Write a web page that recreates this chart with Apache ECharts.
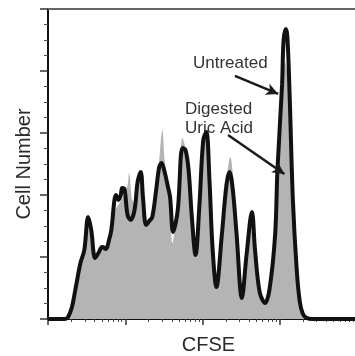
<!DOCTYPE html>
<html>
<head>
<meta charset="utf-8">
<script src="https://cdn.jsdelivr.net/npm/echarts@6/dist/echarts.min.js"></script>
<style>
  html, body { margin: 0; padding: 0; background: #fff; }
  #chart { width: 355px; height: 356px; }
</style>
</head>
<body>
<div id="chart"></div>
<script>
// CFSE fluorescence in decades (log10), counts in arbitrary cell-number units
const untreatedX = [0, 0.22, 0.26, 0.31, 0.36, 0.42, 0.47, 0.52, 0.56, 0.61, 0.66, 0.70, 0.75, 0.79, 0.82, 0.86, 0.88, 0.91, 0.94, 0.96, 0.99,
  1.03, 1.07, 1.12, 1.16, 1.20, 1.23, 1.27, 1.31, 1.35, 1.40, 1.44, 1.47, 1.51, 1.55, 1.58, 1.62, 1.68, 1.74, 1.78, 1.82, 1.86, 1.91, 1.96,
  2.01, 2.05, 2.09, 2.13, 2.18, 2.25, 2.31, 2.35, 2.39, 2.44, 2.51, 2.57, 2.64, 2.68, 2.74, 2.81, 2.87, 2.94, 2.97,
  3.03, 3.05, 3.08, 3.10, 3.13, 3.17, 3.22, 3.26, 3.30, 3.35, 3.42, 4];
const untreatedY = [0, 0, 0.13, 0.77, 2.06, 3.61, 4.45, 6.58, 5.74, 3.94, 4.32, 4.65, 4.52, 5.10, 5.74, 7.68, 8.00, 7.68, 7.94, 8.45, 8.39,
  6.71, 6.39, 7.03, 8.84, 9.48, 7.81, 6.06, 6.32, 6.58, 8.32, 9.81, 10.06, 9.48, 8.58, 7.87, 5.61, 7.03, 11.03, 10.90, 9.61, 6.71, 4.13, 7.35,
  11.55, 12.06, 8.97, 4.58, 2.06, 5.42, 8.65, 9.48, 8.45, 5.55, 1.35, 4.13, 6.90, 4.45, 1.74, 1.03, 2.00, 5.42, 9.61,
  15.10, 18.00, 18.71, 18.13, 14.13, 7.68, 3.16, 1.10, 0.32, 0.06, 0, 0];

const digestedX = [0, 0.25, 0.29, 0.34, 0.39, 0.44, 0.49, 0.53, 0.57, 0.62, 0.66, 0.70, 0.75, 0.79, 0.83, 0.87, 0.91, 0.95, 0.99,
  1.03, 1.05, 1.09, 1.13, 1.17, 1.21, 1.25, 1.29, 1.33, 1.36, 1.40, 1.44, 1.48, 1.51, 1.55, 1.58, 1.61, 1.65, 1.70, 1.74, 1.78, 1.82, 1.86, 1.91, 1.96,
  2.01, 2.05, 2.09, 2.13, 2.18, 2.25, 2.31, 2.36, 2.40, 2.44, 2.51, 2.57, 2.64, 2.68, 2.74, 2.81, 2.87, 2.94, 2.97,
  3.03, 3.07, 3.10, 3.13, 3.17, 3.22, 3.26, 3.30, 3.35, 4];
const digestedY = [0, 0, 0.26, 1.23, 2.52, 3.68, 4.77, 6.06, 5.23, 4.13, 4.45, 4.77, 4.77, 5.23, 6.06, 7.03, 7.35, 7.68, 8.00,
  8.65, 9.42, 7.68, 7.35, 8.97, 9.10, 7.35, 6.26, 6.39, 6.71, 8.32, 10.26, 12.19, 10.26, 8.65, 7.35, 4.90, 6.06, 9.29, 11.68, 11.03, 9.61, 6.71, 4.45, 7.35,
  11.55, 12.19, 9.10, 4.77, 2.32, 5.74, 8.97, 10.45, 8.97, 5.87, 1.55, 4.26, 7.03, 4.58, 1.87, 1.23, 2.19, 5.74, 9.61,
  14.13, 16.58, 15.74, 13.48, 7.35, 3.03, 1.03, 0.19, 0, 0];

const xTitle = "CFSE";
const yTitle = "Cell Number";

// minor ticks of the log CFSE axis: 2..9 within each decade
const minorTickValues = [];
for (let d = 0; d < 4; d++) {
  for (let k = 2; k <= 9; k++) minorTickValues.push(d + Math.log10(k));
}

const zip = (xs, ys) => xs.map((x, i) => [x, ys[i]]);
const font = "Liberation Sans, Arial, sans-serif";

const chart = echarts.init(document.getElementById("chart"));
chart.setOption({
  animation: false,
  grid: { left: 48, top: 9, width: 309, bottom: 37, outerBoundsMode: "none", containLabel: false },
  xAxis: [
    {
      type: "value", min: 0, max: 4, interval: 1, position: "bottom",
      axisLine: { lineStyle: { color: "#111", width: 2 } },
      axisTick: { length: 6, lineStyle: { color: "#333", width: 1.5 } },
      axisLabel: { show: false },
      splitLine: { show: false },
      name: xTitle, nameLocation: "middle", nameGap: 16,
      nameTextStyle: { fontFamily: font, fontSize: 20, color: "#2a2a2a", padding: [0, 0, 0, 12] },
    },
    {
      type: "value", min: 0, max: 4, position: "bottom",
      axisLine: { show: false },
      axisTick: { length: 3, customValues: minorTickValues, lineStyle: { color: "#444", width: 1 } },
      axisLabel: { show: false },
      splitLine: { show: false },
    },
    {
      type: "value", min: 0, max: 4, position: "top",
      axisLine: { lineStyle: { color: "#666", width: 2 } },
      axisTick: { show: false },
      axisLabel: { show: false },
      splitLine: { show: false },
    },
  ],
  yAxis: {
    type: "value", min: 0, max: 20, interval: 4,
    axisLine: { show: true, lineStyle: { color: "#111", width: 2 } },
    axisTick: { length: 8, lineStyle: { color: "#333", width: 1.5 } },
    minorTick: { show: true, splitNumber: 4, length: 4, lineStyle: { color: "#444", width: 1 } },
    axisLabel: { show: false },
    splitLine: { show: false },
    name: yTitle, nameLocation: "middle", nameGap: 14,
    nameTextStyle: { fontFamily: font, fontSize: 20, color: "#2a2a2a" },
  },
  series: [
    {
      name: "Digested Uric Acid",
      type: "line",
      data: zip(digestedX, digestedY),
      smooth: 0.35,
      symbol: "none",
      lineStyle: { width: 0 },
      areaStyle: { color: "#b4b4b4", opacity: 1 },
      z: 2,
    },
    {
      name: "Untreated",
      type: "line",
      data: zip(untreatedX, untreatedY),
      smooth: 0.35,
      symbol: "none",
      lineStyle: { color: "#111", width: 4 },
      z: 3,
      markLine: {
        silent: true,
        symbol: ["none", "arrow"],
        symbolSize: [9, 12],
        label: { show: false },
        lineStyle: { color: "#1a1a1a", width: 2.5, type: "solid" },
        data: [
          [{ coord: [2.42, 15.68] }, { coord: [2.98, 14.52] }],
          [{ coord: [2.33, 11.87] }, { coord: [3.06, 9.35] }],
        ],
      },
    },
  ],
  graphic: [
    {
      type: "text", left: 193, top: 55,
      style: { text: "Untreated", font: "17px " + font, fill: "#333" },
    },
    {
      type: "text", left: 185, top: 100,
      style: { text: "Digested\nUric Acid", font: "17px " + font, fill: "#333", lineHeight: 19 },
    },
  ],
});
</script>
</body>
</html>
